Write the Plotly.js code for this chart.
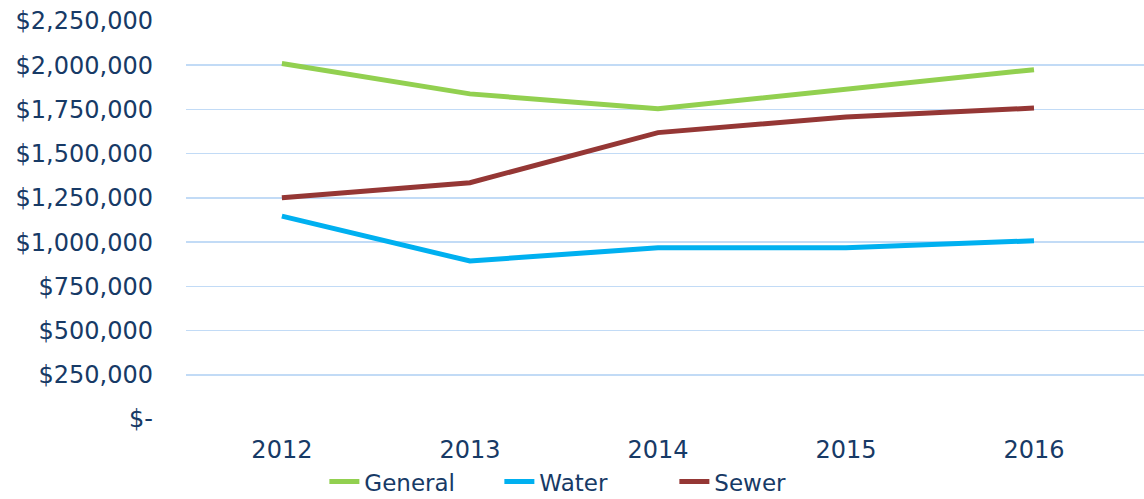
<!DOCTYPE html>
<html>
<head>
<meta charset="utf-8">
<script src="https://cdn.plot.ly/plotly-3.0.1.min.js"></script>
<style>html,body{margin:0;padding:0;background:#fff;}#chart{width:1144px;height:499px;}</style>
</head>
<body>
<div id="chart"></div>
<script>
const years = ["2012", "2013", "2014", "2015", "2016"];
const general = [2010000, 1838000, 1754000, 1863000, 1975000];
const water = [1147000, 893000, 968000, 968000, 1008000];
const sewer = [1251000, 1336000, 1619000, 1707000, 1758000];
const yTickVals = [0, 250000, 500000, 750000, 1000000, 1250000, 1500000, 1750000, 2000000, 2250000];
const yTickText = ["$-", "$250,000", "$500,000", "$750,000", "$1,000,000", "$1,250,000", "$1,500,000", "$1,750,000", "$2,000,000", "$2,250,000"];

const textColor = "#173a66";
const font = {family: "DejaVu Sans, Verdana, sans-serif", size: 24, color: textColor};
const legendFont = {family: "DejaVu Sans, Verdana, sans-serif", size: 23, color: textColor};

const traces = [
  {x: years, y: general, name: "General", type: "scatter", mode: "lines", line: {color: "#92D050", width: 5}},
  {x: years, y: water, name: "Water", type: "scatter", mode: "lines", line: {color: "#00B0F0", width: 5}},
  {x: years, y: sewer, name: "Sewer", type: "scatter", mode: "lines", line: {color: "#953735", width: 5}}
];

const layout = {
  width: 1144, height: 499,
  margin: {l: 186, r: 0, t: 21, b: 80, autoexpand: false},
  paper_bgcolor: "#fff", plot_bgcolor: "#fff",
  font: font,
  showlegend: true,
  legend: {orientation: "h", xref: "container", x: 0.513, xanchor: "center", yref: "container", y: 0.078, yanchor: "top", bgcolor: "rgba(0,0,0,0)", font: legendFont, itemwidth: 30, entrywidth: 130, entrywidthmode: "pixels", tracegroupgap: 0},
  xaxis: {type: "category", range: [-0.51, 4.585], showgrid: false, zeroline: false, showline: false, ticks: "", tickangle: 0, automargin: false, ticklabelstandoff: 14, tickfont: font},
  yaxis: {range: [0, 2250000], tickvals: yTickVals, ticktext: yTickText, showgrid: true, gridcolor: "#c2dbf6", gridwidth: 1.5, zeroline: false, showline: false, ticks: "", automargin: false, ticklabelstandoff: 32, tickfont: font}
};

Plotly.newPlot("chart", traces, layout, {displayModeBar: false, staticPlot: true});
</script>
</body>
</html>
